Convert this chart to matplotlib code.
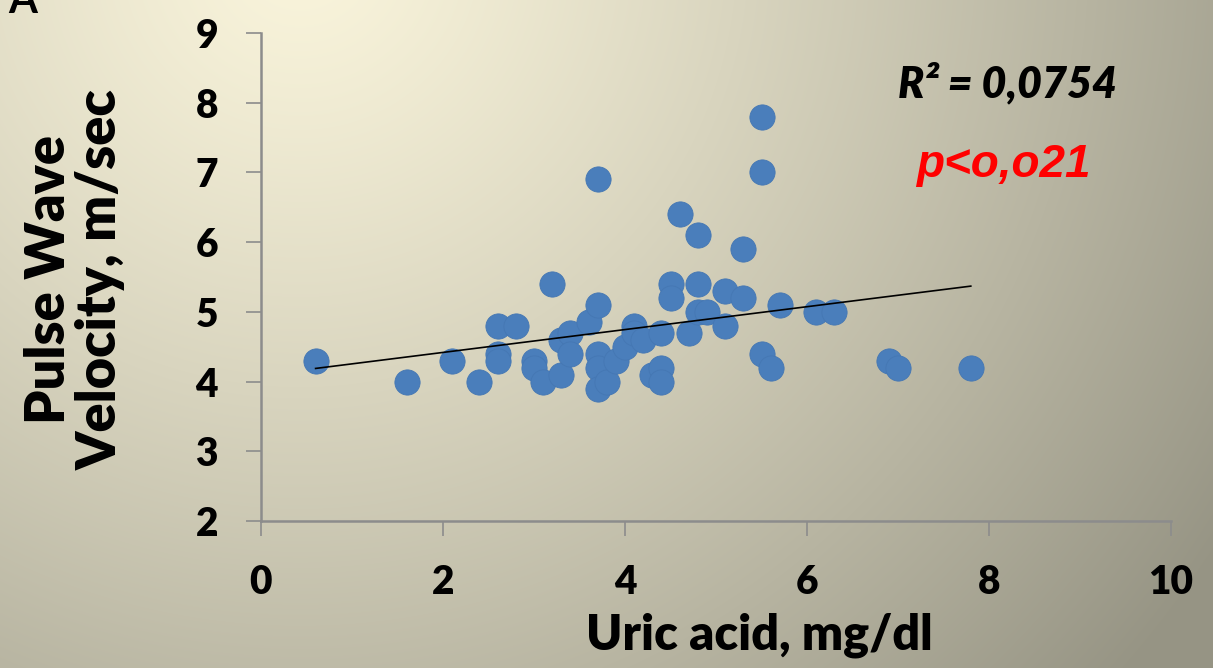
import numpy as np
import matplotlib
matplotlib.use("Agg")
import matplotlib.pyplot as plt

# values
uric = [0.6, 1.6, 2.1, 2.4, 2.6, 2.6, 2.6, 2.8, 3.0, 3.0, 3.1, 3.2, 3.3, 3.3,
        3.4, 3.4, 3.6, 3.7, 3.7, 3.7, 3.7, 3.7, 3.8, 3.9, 4.0, 4.1, 4.1, 4.2,
        4.3, 4.4, 4.4, 4.4, 4.5, 4.5, 4.6, 4.7, 4.8, 4.8, 4.8, 4.9, 5.1, 5.1,
        5.3, 5.3, 5.5, 5.5, 5.5, 5.6, 5.7, 6.1, 6.3, 6.9, 7.0, 7.8]
pwv = [4.3, 4.0, 4.3, 4.0, 4.8, 4.4, 4.3, 4.8, 4.3, 4.2, 4.0, 5.4, 4.6, 4.1,
       4.7, 4.4, 4.85, 6.9, 5.1, 4.4, 4.2, 3.9, 4.0, 4.3, 4.5, 4.8, 4.7, 4.6,
       4.1, 4.2, 4.0, 4.7, 5.4, 5.2, 6.4, 4.7, 6.1, 5.4, 5.0, 5.0, 5.3, 4.8,
       5.9, 5.2, 7.8, 7.0, 4.4, 4.2, 5.1, 5.0, 5.0, 4.3, 4.2, 4.2]
trend_intercept = 4.09
trend_slope = 0.164
xticks = [0, 2, 4, 6, 8, 10]
yticks = [2, 3, 4, 5, 6, 7, 8, 9]

W, H = 1213, 668
fig = plt.figure(figsize=(W / 100, H / 100), dpi=100)

# background gradient
bg = fig.add_axes([0, 0, 1, 1], zorder=-10)
yy, xx = np.mgrid[0:H, 0:W]
d = np.sqrt((xx - 300.0) ** 2 + (yy + 50.0) ** 2)
t = np.clip(d / 1100.0, 0, 1) ** 1.2
c0 = np.array([250, 245, 220]) / 255.0
c1 = np.array([150, 148, 132]) / 255.0
img = c0[None, None, :] * (1 - t[..., None]) + c1[None, None, :] * t[..., None]
bg.imshow(img, aspect="auto", extent=[0, 1, 0, 1], origin="upper")
bg.axis("off")

ax = fig.add_axes([261 / W, 1 - 521 / H, 910 / W, 488 / H])
ax.set_facecolor("none")

ax.scatter(uric, pwv, s=330, color="#4a7ebb", edgecolors="#4577b3",
           linewidths=0.6, zorder=3)
xs = np.array([min(uric), max(uric)])
ax.plot(xs, trend_intercept + trend_slope * xs, color="black", lw=1.2, zorder=4)

ax.set_xlim(0, 10)
ax.set_ylim(2, 9)
ax.set_xticks(xticks)
ax.set_yticks(yticks)
for s in ["top", "right"]:
    ax.spines[s].set_visible(False)
for s in ["left", "bottom"]:
    ax.spines[s].set_color("#8c8c8c")
    ax.spines[s].set_linewidth(1.8)
ax.tick_params(length=11, width=1.2, color="#8c8c8c", pad=20,
               labelsize=28)
for lab in ax.get_xticklabels() + ax.get_yticklabels():
    lab.set_fontfamily("Lato")
    lab.set_fontweight("heavy")

# x axis title sits a bit right of centre in the original
fig.text(759 / W, 1 - 650 / H, "Uric acid, mg/dl", ha="center",
         va="baseline", fontsize=35, fontweight="heavy", family="Lato")

fig.text(75 / W, 1 - 280 / H, "Pulse Wave\nVelocity, m/sec", rotation=90,
         ha="center", va="center", multialignment="center", fontsize=39,
         fontweight="heavy", family="Lato", linespacing=1.05)

fig.text(1008 / W, 1 - 97 / H, "R² = 0,0754", ha="center", va="baseline",
         fontsize=31, fontweight="heavy", fontstyle="italic", family="Lato")
fig.text(1003 / W, 1 - 177 / H, "p<o,o21", ha="center", va="baseline",
         fontsize=33, fontweight="bold", fontstyle="italic",
         family="Liberation Sans", color="red")

fig.text(8 / W, 1 - 13 / H, "A", ha="left", va="baseline", fontsize=30,
         fontweight="bold", family="Lato")

fig.savefig("out.png", dpi=100)
